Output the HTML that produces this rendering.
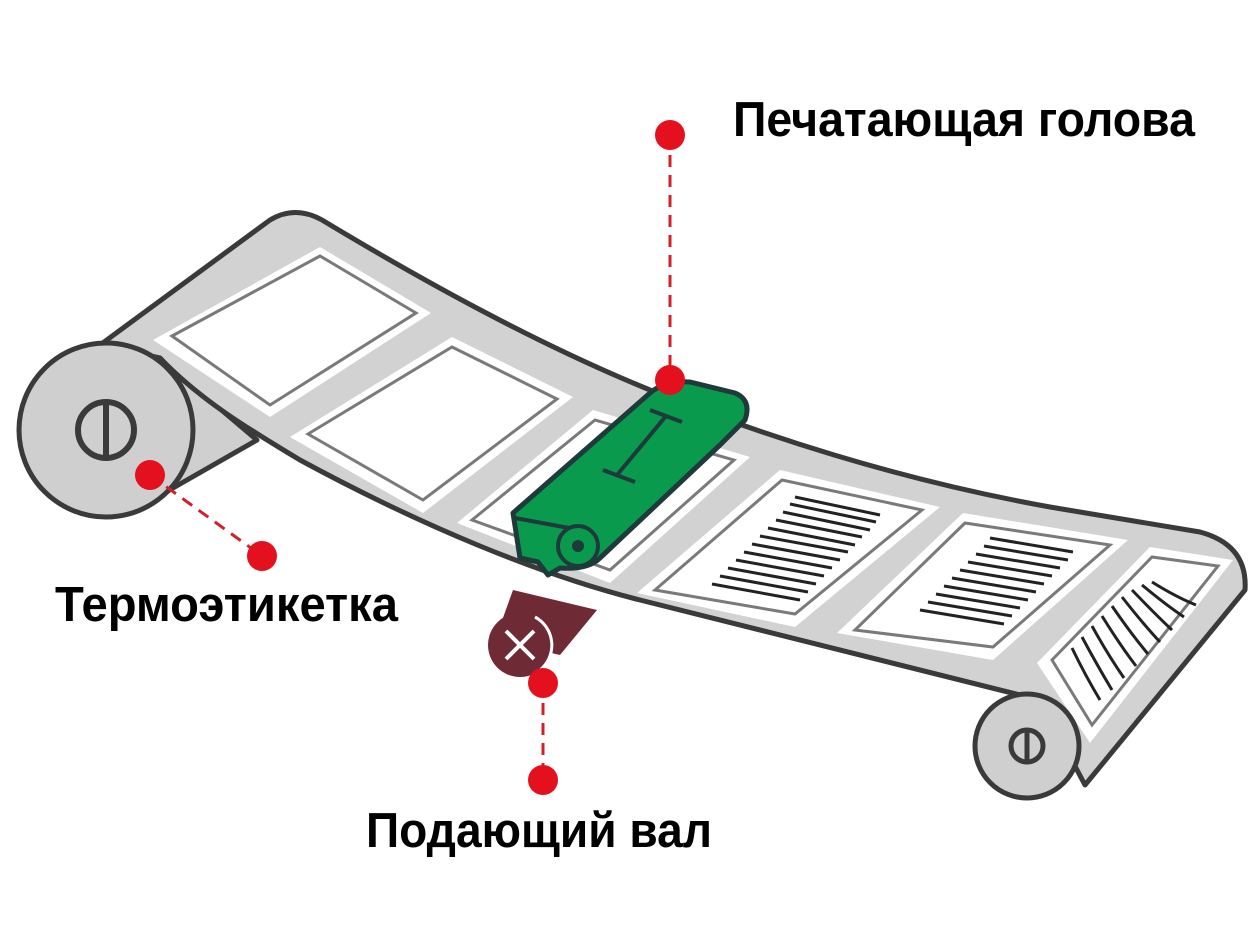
<!DOCTYPE html>
<html><head><meta charset="utf-8"><style>
html,body{margin:0;padding:0;background:#fff;}
svg{display:block}
text{font-family:"Liberation Sans","DejaVu Sans",sans-serif;font-weight:bold;fill:#000}
</style></head><body>
<svg width="1250" height="938" viewBox="0 0 1250 938" xmlns="http://www.w3.org/2000/svg">
<path d="M100,345 L160,358 L257,440 L166,492 L110,500 Z" fill="#cfcfcf" stroke="#3a3a3a" stroke-width="5" stroke-linejoin="round"/>
<path d="M100,345 L270,220 Q295,205 322,220 C430,285 540,345 650,390 C760,435 900,480 1050,507 L1200,532 Q1248,545 1245,590 L1085,785 L1040,700 C900,665 760,630 640,600 C540,575 420,525 300,460 C250,430 200,400 160,358 Z" fill="#d2d2d2" stroke="#3a3a3a" stroke-width="5" stroke-linejoin="round"/>
<path d="M513,590 L597,610 L560,655 L495,640 Z" fill="#6e2b36"/>
<circle cx="520" cy="645" r="32" fill="#6e2b36"/>
<path d="M535,617 A32,32 0 0 1 540,670" fill="none" stroke="#fff" stroke-width="3"/>
<path d="M506,631 L534,659 M534,631 L506,659" stroke="#fff" stroke-width="4"/>
<g fill="#fff" stroke="none">
<path d="M153,340 L320,247 L431,313 L270,417 Z"/>
<path d="M290,437 L452,337 L573,397 L423,513 Z"/>
<path d="M457,523 L593,410 L750,457 L610,583 Z"/>
<path d="M637,593 L780,470 L940,507 L795,627 Z"/>
<path d="M837,633 L963,513 L1128,540 L993,660 Z"/>
<path d="M1037,663 L1150,547 L1233,560 L1090,743 Z"/>
</g>
<g fill="none" stroke="#7a7a7a" stroke-width="3">
<path d="M172,336 L320,256 L416,313 L270,405 Z"/>
<path d="M308,434 L452,347 L557,399 L423,500 Z"/>
<path d="M472,520 L595,420 L734,460 L610,570 Z"/>
<path d="M655,590 L782,480 L922,510 L795,614 Z"/>
<path d="M855,630 L965,523 L1110,545 L993,647 Z"/>
<path d="M1052,660 L1152,557 L1218,566 L1092,725 Z"/>
</g>
<g stroke="#222" stroke-width="3">
<path d="M795,497 L880,515 M790,504 L876,522 M783,512 L870,530 M776,520 L862,537 M768,528 L855,545 M760,536 L848,552 M752,544 L840,560 M744,552 L832,568 M736,560 L824,576 M728,568 L816,584 M720,576 L808,592 M712,584 L800,600"/>
<path d="M990,538 L1073,552 M984,546 L1068,560 M976,554 L1060,568 M968,562 L1052,576 M960,570 L1044,584 M952,578 L1036,592 M944,586 L1028,600 M936,594 L1020,608 M928,602 L1012,616 M920,610 L1004,624"/>
</g>
<g stroke="#222" stroke-width="3" fill="none">
<path d="M1072,648 Q1085,675 1100,700"/>
<path d="M1082,637 Q1097,665 1112,690"/>
<path d="M1092,626 Q1108,655 1124,678"/>
<path d="M1102,616 Q1120,645 1136,666"/>
<path d="M1112,606 Q1132,635 1148,654"/>
<path d="M1122,597 Q1144,625 1160,642"/>
<path d="M1132,590 Q1156,615 1172,630"/>
<path d="M1142,585 Q1166,605 1184,617"/>
<path d="M1152,582 Q1176,597 1196,605"/>
</g>
<circle cx="106" cy="430" r="87" fill="#cfcfcf" stroke="#3a3a3a" stroke-width="5"/>
<circle cx="106" cy="430" r="28" fill="none" stroke="#3a3a3a" stroke-width="6"/>
<line x1="106" y1="405" x2="106" y2="455" stroke="#3a3a3a" stroke-width="6"/>
<circle cx="1027" cy="746" r="52" fill="#cfcfcf" stroke="#3a3a3a" stroke-width="5"/>
<circle cx="1027" cy="746" r="16" fill="none" stroke="#3a3a3a" stroke-width="5"/>
<line x1="1027" y1="732" x2="1027" y2="760" stroke="#3a3a3a" stroke-width="5"/>
<path d="M513,513 L650,393 Q665,380 690,382 L735,393 Q752,400 745,420 L720,445 L600,558 Q588,570 560,568 L548,575 L538,562 L520,558 Z" fill="#0a9a4e" stroke="#1e3a3a" stroke-width="5" stroke-linejoin="round"/>
<path d="M515,518 L580,530" stroke="#1e3a3a" stroke-width="4"/>
<circle cx="578" cy="546" r="20" fill="#0a9a4e" stroke="#1e3a3a" stroke-width="4"/>
<circle cx="578" cy="546" r="6" fill="#1e3a3a"/>
<path d="M650,410 L682,422 M666,416 L617,475 M603,470 L635,482" stroke="#1e3a3a" stroke-width="4" fill="none"/>
<g stroke="#d0202a" stroke-width="3" stroke-dasharray="12,8">
<line x1="670" y1="135" x2="670" y2="380"/>
<line x1="150" y1="475" x2="262" y2="556"/>
<line x1="543" y1="683" x2="543" y2="780"/>
</g>
<g fill="#e4101e">
<circle cx="670" cy="135" r="15"/><circle cx="670" cy="380" r="15"/>
<circle cx="150" cy="475" r="15"/><circle cx="262" cy="556" r="15"/>
<circle cx="543" cy="683" r="15"/><circle cx="543" cy="780" r="15"/>
</g>
<text x="733" y="136" font-size="49" textLength="462" lengthAdjust="spacingAndGlyphs">Печатающая голова</text>
<text x="55" y="621" font-size="49" textLength="343" lengthAdjust="spacingAndGlyphs">Термоэтикетка</text>
<text x="366" y="847" font-size="49" textLength="346" lengthAdjust="spacingAndGlyphs">Подающий вал</text>
</svg>
</body></html>
